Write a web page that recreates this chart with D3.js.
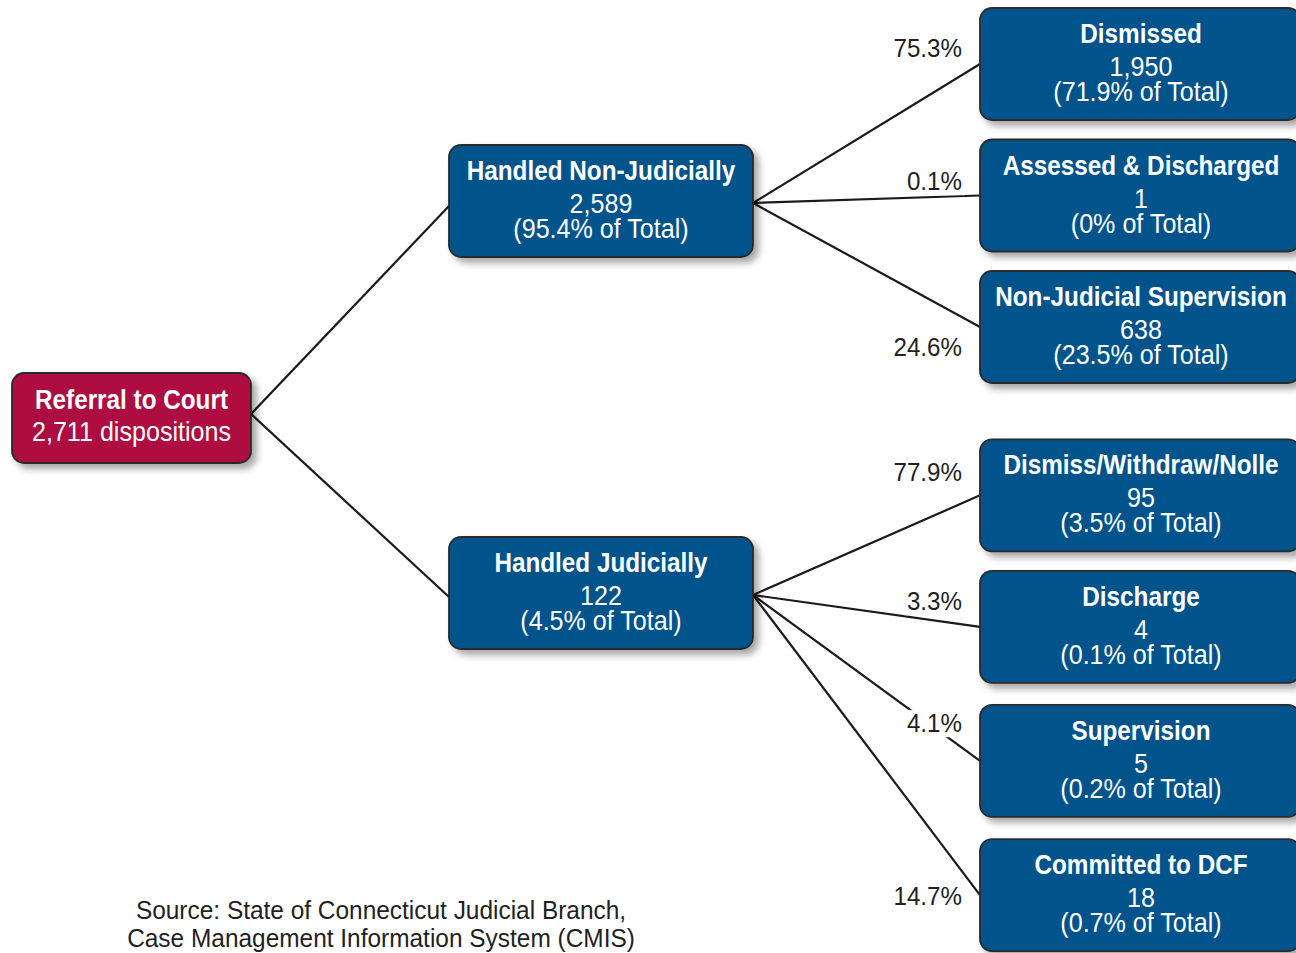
<!DOCTYPE html>
<html>
<head>
<meta charset="utf-8">
<script src="https://cdn.jsdelivr.net/npm/d3@7"></script>
<style>
  html, body { margin: 0; padding: 0; background: #fff; }
  svg { display: block; }
  text { font-family: "Liberation Sans", Arial, "Helvetica", sans-serif; }
</style>
</head>
<body>
<svg id="chart" width="1296" height="953"></svg>
<script>
// ---- data ----
const rootLabel = "Referral to Court";
const rootCount = "2,711 dispositions";

const midNames = ["Handled Non-Judicially", "Handled Judicially"];
const midCounts = [2589, 122];
const midPctTotal = ["95.4%", "4.5%"];

const leafNames = ["Dismissed", "Assessed & Discharged", "Non-Judicial Supervision",
                   "Dismiss/Withdraw/Nolle", "Discharge", "Supervision", "Committed to DCF"];
const leafParent = [0, 0, 0, 1, 1, 1, 1];
const leafCounts = [1950, 1, 638, 95, 4, 5, 18];
const leafPctTotal = ["71.9%", "0%", "23.5%", "3.5%", "0.1%", "0.2%", "0.7%"];
const branchPct = ["75.3%", "0.1%", "24.6%", "77.9%", "3.3%", "4.1%", "14.7%"];

const sourceLines = ["Source: State of Connecticut Judicial Branch,",
                     "Case Management Information System (CMIS)"];

// ---- layout ----
const svg = d3.select("#chart");
const BLUE = "#02538b", RED = "#ad0a3f", EDGE = "#2b2b2b", INK = "#231f20";
const KREG = 0.93, KBOLD = 0.9;   // condensed look

const defs = svg.append("defs");
const f = defs.append("filter").attr("id", "shadow")
  .attr("x", "-10%").attr("y", "-10%").attr("width", "130%").attr("height", "140%");
f.append("feDropShadow").attr("dx", 5).attr("dy", 5).attr("stdDeviation", 3.5)
  .attr("flood-color", "#000").attr("flood-opacity", 0.35);

// condensed text helper
function ctext(g, x, y, str, opts) {
  const k = opts.bold ? KBOLD : (opts.k || KREG);
  const t = g.append("text")
    .attr("transform", `translate(${x},${y}) scale(${k},1)`)
    .attr("text-anchor", opts.anchor || "middle")
    .attr("font-size", opts.size || 27)
    .attr("fill", opts.fill || "#fff")
    .text(str);
  if (opts.bold) t.attr("font-weight", "bold");
  return t;
}

// column x positions (left edges) by depth
const colX = d3.scaleOrdinal().domain([0, 1, 2]).range([12, 449, 980]);
const colW = d3.scaleOrdinal().domain([0, 1, 2]).range([239, 304, 320]);
// leaf slot positions -> y center
const leafSlots = [0, 1, 2, 3.28, 4.28, 5.3, 6.32];
const ySlot = d3.scaleLinear().domain([0, 1]).range([64, 195.5]);
const midY = [201, 593];
const rootY = 418;
const boxH = 112, rootH = 90;

const fmt = d3.format(",");

const rootNode = { x: colX(0), w: colW(0), y: rootY - rootH / 2, h: rootH, cy: rootY };
const midNodes = midNames.map((n, i) => ({ name: n, count: midCounts[i], pct: midPctTotal[i],
  x: colX(1), w: colW(1), y: midY[i] - boxH / 2, h: boxH, cy: midY[i], leaf: false }));
const leafNodes = leafNames.map((n, i) => {
  const cy = ySlot(leafSlots[i]);
  return { name: n, count: leafCounts[i], pct: leafPctTotal[i], branch: branchPct[i],
    parent: leafParent[i], x: colX(2), w: colW(2), y: cy - boxH / 2, h: boxH, cy: cy, leaf: true };
});

// ---- links ----
const linkG = svg.append("g").attr("stroke", "#1a1a1a").attr("stroke-width", 2.2).attr("fill", "none");
midNodes.forEach(m => {
  linkG.append("line").attr("x1", rootNode.x + rootNode.w).attr("y1", rootNode.cy - 4)
    .attr("x2", m.x).attr("y2", m.cy + (m.cy < rootY ? 5 : 4));
});
leafNodes.forEach(l => {
  const p = midNodes[l.parent];
  linkG.append("line").attr("x1", p.x + p.w).attr("y1", p.cy + 2)
    .attr("x2", l.x).attr("y2", l.cy);
});

// ---- branch percentage labels ----
const pctLabelY = [57, 190, 356, 481, 610, 732, 905];
const pctG = svg.append("g");
leafNodes.forEach((d, i) => {
  const bg = pctG.append("rect").attr("fill", "#fff");
  const t = ctext(pctG, 962, pctLabelY[i], d.branch, { anchor: "end", size: 26, fill: INK });
  const b = t.node().getBBox();
  const k = KREG;
  bg.attr("x", 962 + b.x * k - 3).attr("y", pctLabelY[i] + b.y + 2)
    .attr("width", b.width * k + 6).attr("height", b.height - 2);
});

// ---- boxes ----
function drawBox(g, n, fill) {
  g.append("rect").attr("x", n.x).attr("y", n.y).attr("width", n.w).attr("height", n.h)
    .attr("rx", 12).attr("ry", 12).attr("fill", fill)
    .attr("stroke", EDGE).attr("stroke-width", 1.8).attr("filter", "url(#shadow)");
}
const boxG = svg.append("g");

drawBox(boxG, rootNode, RED);
const rcx = rootNode.x + rootNode.w / 2;
ctext(boxG, rcx, rootNode.y + 36, rootLabel, { bold: true });
ctext(boxG, rcx, rootNode.y + 68, rootCount, {});

[...midNodes, ...leafNodes].forEach(n => {
  drawBox(boxG, n, BLUE);
  const cx = n.x + (n.leaf ? 161 : n.w / 2);
  ctext(boxG, cx, n.y + 35, n.name, { bold: true });
  ctext(boxG, cx, n.y + 68, fmt(n.count), {});
  ctext(boxG, cx, n.y + 93, "(" + n.pct + " of Total)", {});
});

// ---- source ----
const srcG = svg.append("g");
sourceLines.forEach((s, i) => ctext(srcG, 381, 919 + i * 28, s, { size: 26, fill: INK, k: 0.94 }));
</script>
</body>
</html>
